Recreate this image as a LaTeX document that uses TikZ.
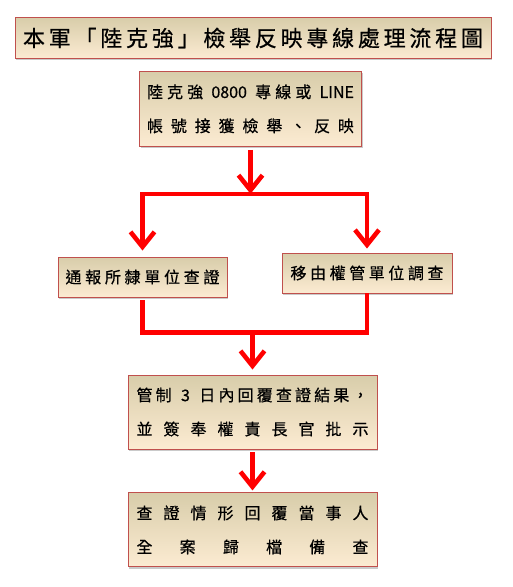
\documentclass[tikz,border=0pt]{standalone}
\usepackage{fontspec}
\usetikzlibrary{arrows.meta,positioning,calc,shadows}
\newfontfamily\kai[FakeBold=0.6]{Noto Sans CJK TC}
\definecolor{frame}{HTML}{C0504D}
\definecolor{tan}{HTML}{D8CDAA}
\definecolor{cream}{HTML}{FCEBD2}
\definecolor{flowred}{HTML}{FF0000}
\tikzset{
  box/.style={
    draw=frame, line width=0.9pt, top color=tan, bottom color=cream,
    inner sep=0pt, align=center,
    drop shadow={shadow xshift=1.2pt, shadow yshift=-1.6pt, opacity=0.35, fill=black!60}
  },
  boxtext/.style={font=\kai\fontsize{16}{34}\selectfont},
  barb/.tip={Straight Barb[length=15pt, width=24pt]},
  flow/.style={-barb, line width=4.6pt, draw=flowred},
  bar/.style={line width=4.6pt, draw=flowred, line join=miter}
}

\begin{document}
\begin{tikzpicture}[x=1pt, y=1pt]
  \useasboundingbox (0,0) rectangle (513,-587);
  % title
  \node[box, minimum width=476pt, minimum height=41pt, font=\kai\fontsize{22}{26}\selectfont] (title) at (253,-38)
    {\makebox[460pt]{本\hfill 軍\hfill 「\hfill 陸\hfill 克\hfill 強\hfill 」\hfill 檢\hfill 舉\hfill 反\hfill 映\hfill 專\hfill 線\hfill 處\hfill 理\hfill 流\hfill 程\hfill 圖}};
  % steps
  \node[box, boxtext, minimum width=222pt, minimum height=75pt, below=12pt of title, xshift=-2.5pt] (report)
    {\makebox[207pt]{陸\hfill 克\hfill 強\hfill\hfill 0800\hfill\hfill 專\hfill 線\hfill 或\hfill\hfill LINE}\\
     \makebox[207pt]{帳\hfill 號\hfill 接\hfill 獲\hfill 檢\hfill 舉\hfill 、\hfill 反\hfill 映}};
  \node[box, boxtext, minimum width=169pt, minimum height=40pt] (notify) at (142.5,-277)
    {\makebox[154pt]{通\hfill 報\hfill 所\hfill 隸\hfill 單\hfill 位\hfill 查\hfill 證}};
  \node[box, boxtext, minimum width=170pt, minimum height=40pt] (transfer) at (367,-273)
    {\makebox[153pt]{移\hfill 由\hfill 權\hfill 管\hfill 單\hfill 位\hfill 調\hfill 查}};
  \node[box, boxtext, minimum width=249pt, minimum height=74pt] (verify) at (252.5,-412)
    {\makebox[232pt]{管\hfill 制\hfill\hfill\hfill 3\hfill\hfill\hfill 日\hfill 內\hfill 回\hfill 覆\hfill 查\hfill 證\hfill 結\hfill 果\hfill ，}\\
     \makebox[232pt]{並\hfill 簽\hfill 奉\hfill 權\hfill 責\hfill 長\hfill 官\hfill 批\hfill 示}};
  \node[box, boxtext, minimum width=249pt, minimum height=74pt, below=43pt of verify] (reply)
    {\makebox[232pt]{查\hfill 證\hfill 情\hfill 形\hfill 回\hfill 覆\hfill 當\hfill 事\hfill 人}\\
     \makebox[232pt]{全\hfill 案\hfill 歸\hfill 檔\hfill 備\hfill 查}};
  % split and merge points
  \coordinate (fork) at ($(report.south)+(0,-47)$);
  \coordinate (merge) at ($(verify.north)+(0,42)$);
  % connectors
  \draw[flow, shorten <=3pt] (report) -- (fork);
  \draw[bar, barb-barb, shorten <=6pt, shorten >=4pt]
    (notify.north) -- (fork -| notify.north) -- (fork -| transfer.north) -- (transfer.north);
  \draw[bar, shorten <=3pt] (notify.south) -- (notify.south |- merge) -- (transfer.south |- merge) -- (transfer.south);
  \draw[flow, shorten >=5pt] (merge) -- (verify);
  \draw[flow, shorten <=3pt, shorten >=2pt] (verify) -- (reply);
\end{tikzpicture}
\end{document}
